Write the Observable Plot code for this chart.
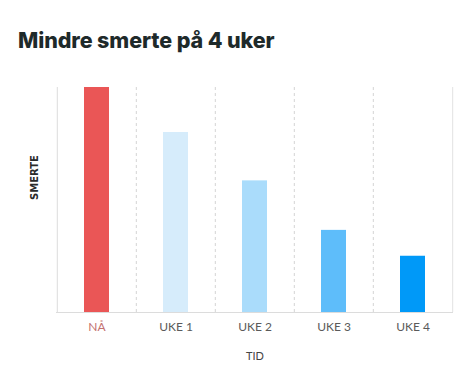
<!DOCTYPE html>
<html>
<head>
<meta charset="utf-8">
<script src="https://cdn.jsdelivr.net/npm/d3@7"></script>
<script src="https://cdn.jsdelivr.net/npm/@observablehq/plot@0.6"></script>
<style>
  html, body { margin: 0; padding: 0; background: #fff; }
  #title { position: absolute; left: 18px; top: 27px; font-family: Inter, "Open Sans", sans-serif; font-weight: 800; font-size: 21.5px; color: #1e2a2a; letter-spacing: -0.1px; white-space: nowrap; }
  #chart { position: absolute; left: 0; top: 70px; }
</style>
</head>
<body>
<div id="title">Mindre smerte på 4 uker</div>
<div id="chart"></div>
<script>
const categories = ["NÅ", "UKE 1", "UKE 2", "UKE 3", "UKE 4"];
const values = [100, 80, 58.5, 36.5, 25];
const colors = ["#ea5656", "#d6ecfb", "#aadcfb", "#5ebdfa", "#0099f8"];
const labelColors = ["#c4716f", "#5a5a5a", "#5a5a5a", "#5a5a5a", "#5a5a5a"];

const data = categories.map((c, i) => ({cat: c, value: values[i], color: colors[i], lc: labelColors[i]}));

const W = 471, H = 322, ML = 56, MR = 18, MT = 17, MB = 80;
const step = (W - ML - MR) / categories.length;
const pad = 0.685;

const chart = Plot.plot({
  width: W,
  height: H,
  marginLeft: ML,
  marginRight: MR,
  marginTop: MT,
  marginBottom: MB,
  x: {domain: categories, paddingInner: pad, paddingOuter: pad / 2, axis: null},
  y: {domain: [0, 100], axis: null},
  marks: [
    Plot.ruleX(categories.slice(1), {x: d => d, dx: -step / 2, y1: 0, y2: 100, stroke: "#d4d4d4", strokeDasharray: "3,3", strokeWidth: 1}),
    Plot.ruleX([categories[0]], {x: d => d, dx: -step / 2, y1: 0, y2: 100, stroke: "#dcdcdc", strokeWidth: 1}),
    Plot.ruleX([categories[categories.length - 1]], {x: d => d, dx: step / 2, y1: 0, y2: 100, stroke: "#e2e2e2", strokeWidth: 1}),
    Plot.barY(data, {x: "cat", y: "value", fill: "color"}),
    Plot.ruleY([0], {stroke: "#dcdcdc", strokeWidth: 1}),
    Plot.text(data, {x: "cat", text: "cat", fill: "lc", frameAnchor: "bottom", dy: 18, fontSize: 12, fontFamily: "Lato, sans-serif", letterSpacing: 1}),
    Plot.text(["TID"], {text: d => d, frameAnchor: "bottom", dy: 47, fontSize: 11, fontFamily: "Lato, sans-serif", fill: "#444", letterSpacing: 1}),
    Plot.text(["SMERTE"], {text: d => d, frameAnchor: "left", dx: -22, rotate: -90, fontSize: 10, fontWeight: "bold", fontFamily: "DejaVu Sans, sans-serif", fill: "#2a2a2a", letterSpacing: 1.5})
  ]
});
document.getElementById("chart").appendChild(chart);
</script>
</body>
</html>
